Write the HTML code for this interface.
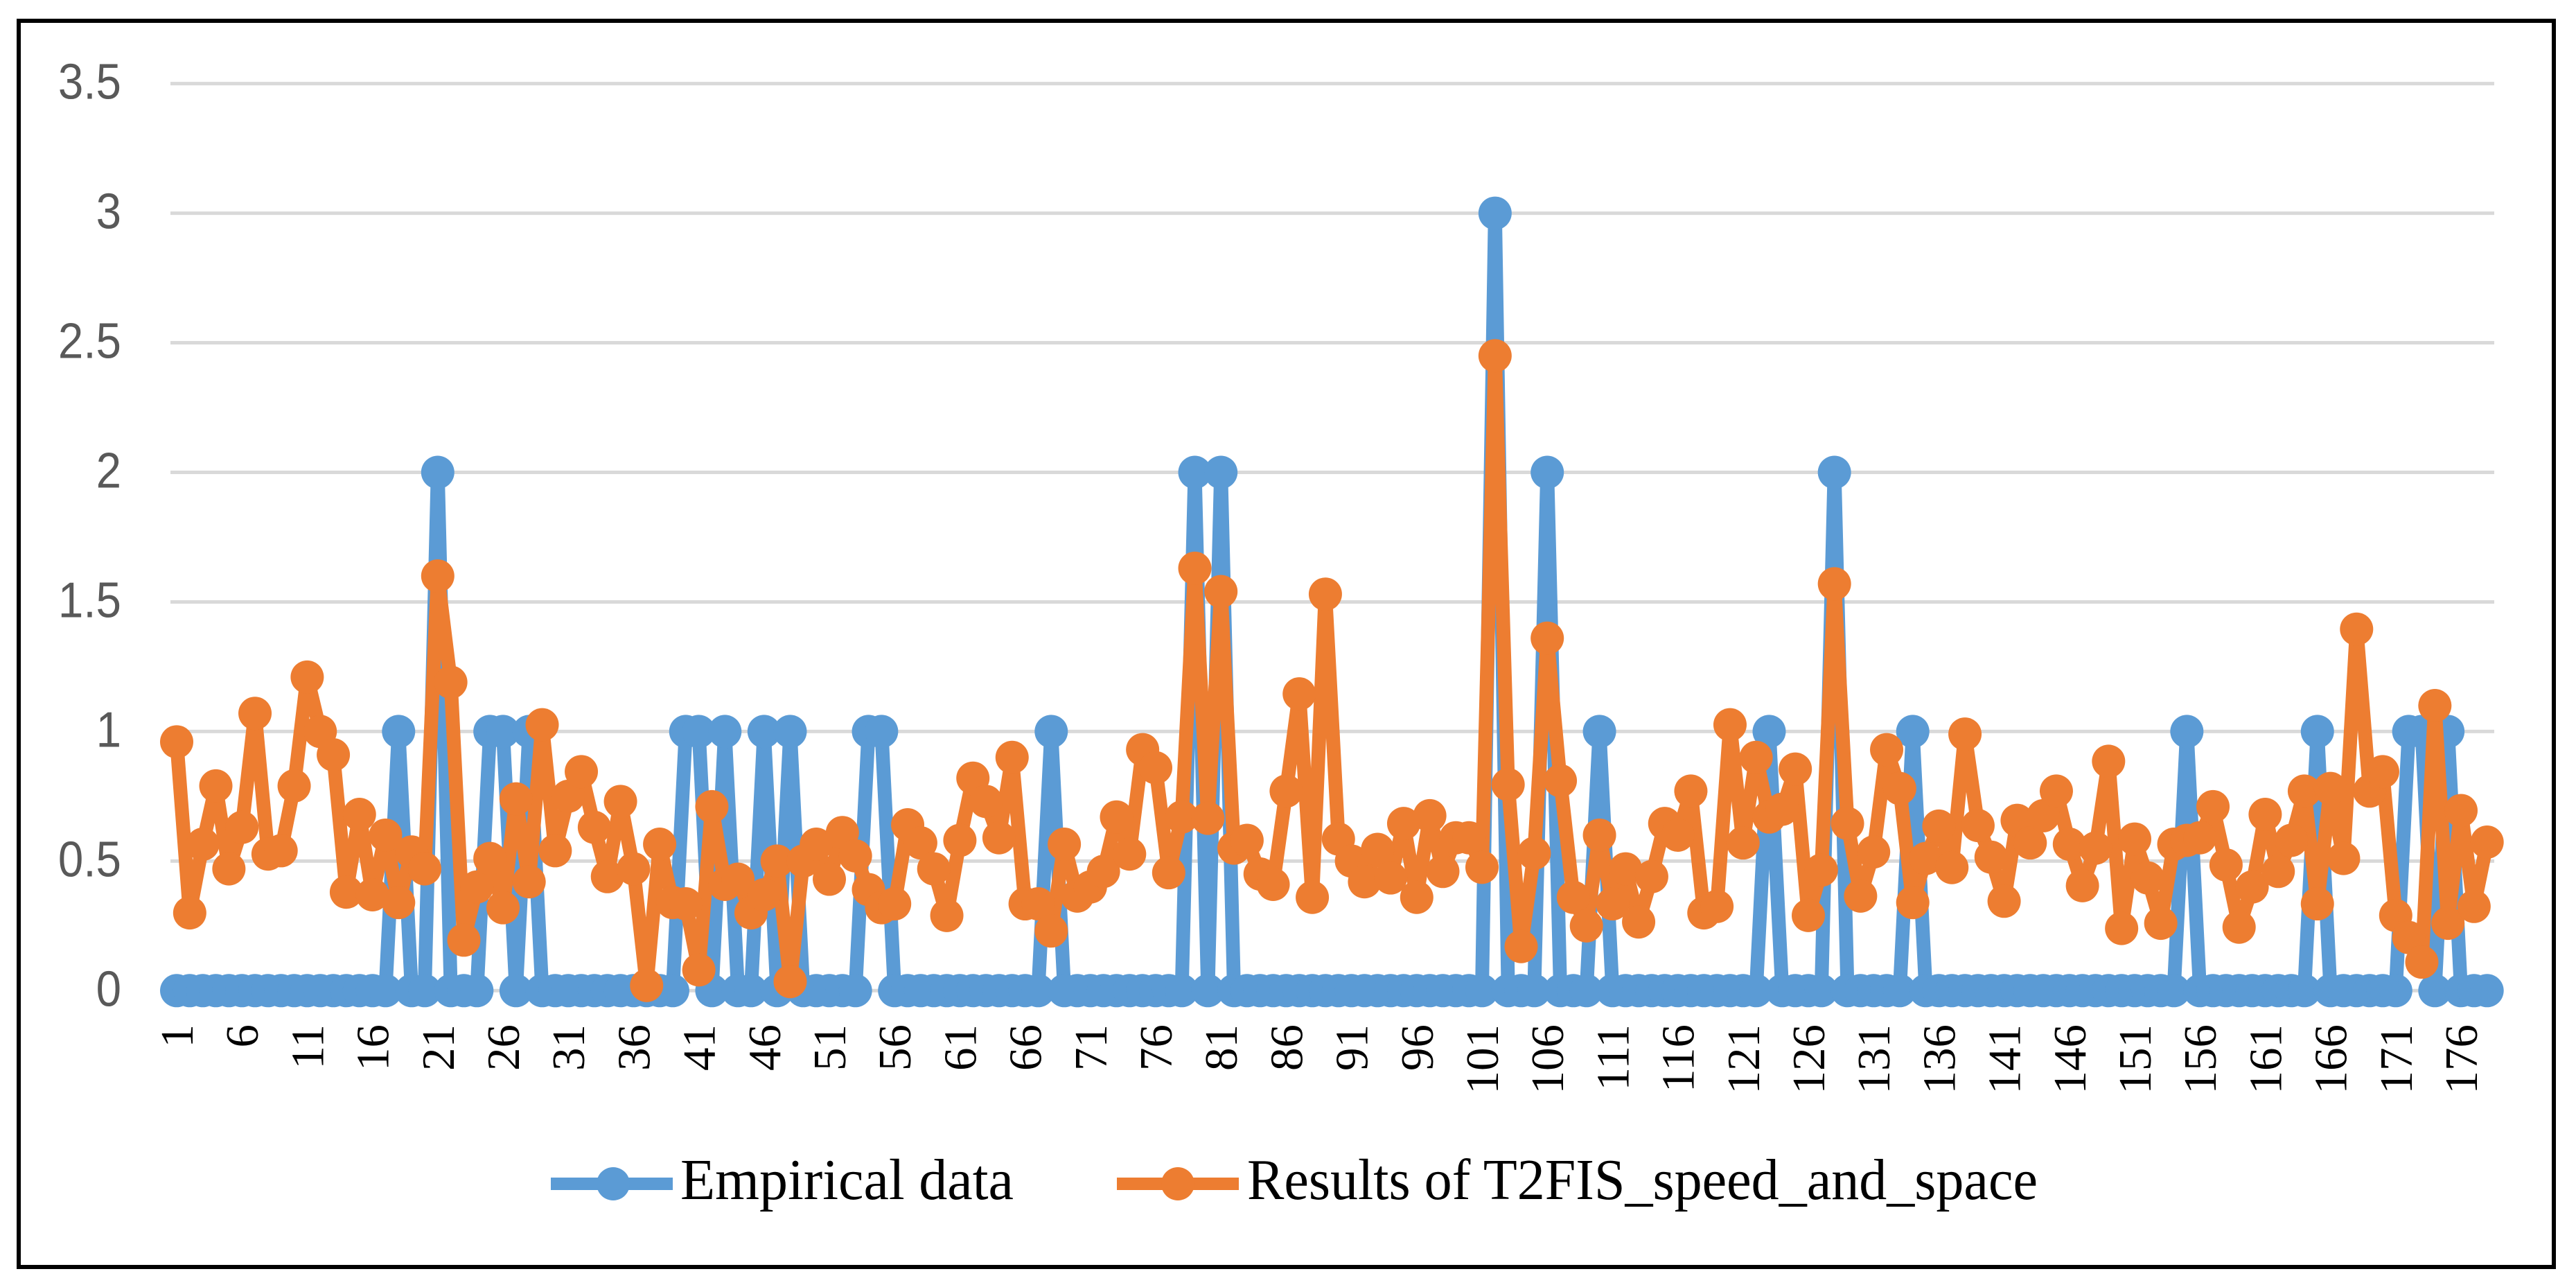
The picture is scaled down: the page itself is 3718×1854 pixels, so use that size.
<!DOCTYPE html>
<html>
<head>
<meta charset="utf-8">
<title>Empirical data vs Results of T2FIS_speed_and_space</title>
<style>
html,body{margin:0;padding:0;background:#fff;}
body{width:3718px;height:1854px;overflow:hidden;}
svg{display:block;}
.ytick{font-family:"Liberation Sans",sans-serif;font-size:72px;fill:#595959;}
.xtick{font-family:"Liberation Serif",serif;font-size:67px;fill:#000;}
.legend-text{font-family:"Liberation Serif",serif;font-size:84px;fill:#000;}
</style>
</head>
<body>
<svg id="chart" xmlns="http://www.w3.org/2000/svg" width="3718" height="1854" viewBox="0 0 3718 1854">
  <rect x="0" y="0" width="3718" height="1854" fill="#fff"/>
  <rect x="27" y="30" width="3659" height="1798" fill="none" stroke="#000" stroke-width="6"/>
  <g id="grid"></g>
  <g id="yaxis"></g>
  <g id="xaxis"></g>
  <g id="series"></g>
  <g>
    <g>
      <line x1="795" x2="971" y1="1708" y2="1708" stroke="#5B9BD5" stroke-width="18"/>
      <circle cx="885" cy="1708" r="24" fill="#5B9BD5"/>
      <text class="legend-text" x="982" y="1730" textLength="481" lengthAdjust="spacingAndGlyphs">Empirical data</text>
    </g>
    <g>
      <line x1="1612" x2="1788" y1="1708" y2="1708" stroke="#ED7D31" stroke-width="18"/>
      <circle cx="1700" cy="1708" r="24" fill="#ED7D31"/>
      <text class="legend-text" x="1800" y="1730" textLength="1141" lengthAdjust="spacingAndGlyphs">Results of T2FIS_speed_and_space</text>
    </g>
  </g>
</svg>
<script>
const yTickValues = [0, 0.5, 1, 1.5, 2, 2.5, 3, 3.5];
const xTickLabels = [1,6,11,16,21,26,31,36,41,46,51,56,61,66,71,76,81,86,91,96,101,106,111,116,121,126,131,136,141,146,151,156,161,166,171,176];
const empiricalData = [
0,0,0,0,0,0,0,0,0,0,
0,0,0,0,0,0,0,1,0,0,
2,0,0,0,1,1,0,1,0,0,
0,0,0,0,0,0,0,0,0,1,
1,0,1,0,0,1,0,1,0,0,
0,0,0,1,1,0,0,0,0,0,
0,0,0,0,0,0,0,1,0,0,
0,0,0,0,0,0,0,0,2,0,
2,0,0,0,0,0,0,0,0,0,
0,0,0,0,0,0,0,0,0,0,
0,3,0,0,0,2,0,0,0,1,
0,0,0,0,0,0,0,0,0,0,
0,0,1,0,0,0,0,2,0,0,
0,0,0,1,0,0,0,0,0,0,
0,0,0,0,0,0,0,0,0,0,
0,0,0,0,1,0,0,0,0,0,
0,0,0,0,1,0,0,0,0,0,
0,1,1,0,1,0,0,0
];
const t2fisResults = [
.96,.30,.565,.79,.47,.63,1.07,.527,.54,.79,
1.21,1.00,.91,.38,.68,.37,.60,.34,.535,.47,
1.60,1.19,.195,.40,.51,.32,.74,.42,1.026,.54,
.75,.845,.63,.44,.73,.47,.02,.565,.34,.335,
.08,.71,.41,.43,.30,.37,.50,.035,.50,.565,
.43,.61,.52,.39,.32,.335,.64,.57,.47,.29,
.58,.82,.73,.59,.90,.335,.335,.23,.565,.365,
.40,.46,.67,.527,.93,.86,.455,.67,1.63,.665,
1.54,.55,.58,.45,.41,.77,1.145,.36,1.53,.585,
.50,.42,.545,.435,.645,.36,.675,.46,.59,.59,
.476,2.45,.795,.17,.53,1.36,.81,.36,.25,.60,
.335,.47,.265,.44,.645,.60,.77,.30,.325,1.026,
.57,.90,.67,.70,.855,.29,.465,1.57,.645,.365,
.535,.93,.78,.34,.51,.635,.475,.99,.637,.515,
.345,.657,.57,.675,.77,.565,.405,.55,.885,.24,
.585,.435,.26,.565,.58,.59,.71,.485,.245,.40,
.68,.46,.58,.77,.335,.78,.51,1.395,.77,.845,
.29,.205,.11,1.10,.26,.695,.325,.573
];

const NS = 'http://www.w3.org/2000/svg';
function xPos(n){ return 255 + 18.84 * (n - 1); }
function yPos(v){ return 1429.3 - 373.9 * v; }
function make(tag){ return document.createElementNS(NS, tag); }

const grid = document.getElementById('grid');
const yaxis = document.getElementById('yaxis');
yTickValues.forEach(function(v){
  const ln = make('line');
  
  
  ln.setAttribute('x1', 246);
  ln.setAttribute('x2', 3600);
  ln.setAttribute('y1', yPos(v));
  ln.setAttribute('y2', yPos(v));
  ln.setAttribute('stroke', '#d9d9d9');
  ln.setAttribute('stroke-width', 5);
  grid.appendChild(ln);
  const t = make('text');
  
  
  t.setAttribute('class', 'ytick');
  t.setAttribute('text-anchor', 'end');
  t.setAttribute('transform', 'translate(175,' + (yPos(v) + 22) + ') scale(.91,1)');
  t.textContent = String(v);
  yaxis.appendChild(t);
});

const xaxis = document.getElementById('xaxis');
xTickLabels.forEach(function(n){
  const t = make('text');
  
  
  t.setAttribute('class', 'xtick');
  t.setAttribute('text-anchor', 'end');
  t.setAttribute('transform', 'translate(' + (xPos(n) + 23) + ',1478) rotate(-90)');
  t.textContent = String(n);
  xaxis.appendChild(t);
});

function drawSeries(values, color, name){
  const layer = document.getElementById('series');
  const g = make('g');
  
  
  const line = make('polyline');
  
  
  line.setAttribute('fill', 'none');
  line.setAttribute('stroke', color);
  line.setAttribute('stroke-width', 20);
  line.setAttribute('stroke-linejoin', 'round');
  line.setAttribute('points', values.map(function(v, i){ return xPos(i + 1) + ',' + yPos(v); }).join(' '));
  g.appendChild(line);
  values.forEach(function(v, i){
    const c = make('circle');
    
    
    c.setAttribute('cx', xPos(i + 1));
    c.setAttribute('cy', yPos(v));
    c.setAttribute('r', 24);
    c.setAttribute('fill', color);
    g.appendChild(c);
  });
  layer.appendChild(g);
}
drawSeries(empiricalData, '#5B9BD5', 'series-empirical-data');
drawSeries(t2fisResults, '#ED7D31', 'series-t2fis-results');
</script>
</body>
</html>
